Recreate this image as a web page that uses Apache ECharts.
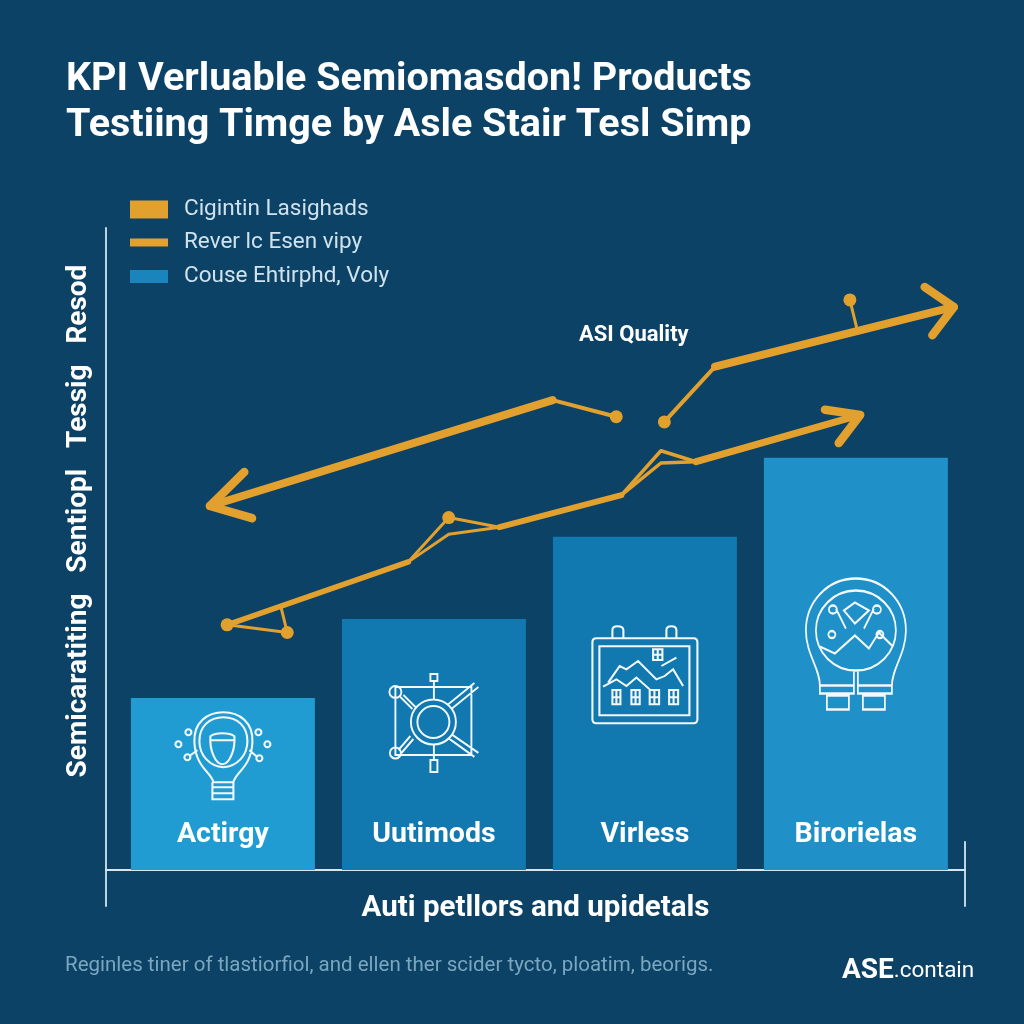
<!DOCTYPE html>
<html>
<head>
<meta charset="utf-8">
<style>html,body{margin:0;padding:0;background:#0c4265}#c{width:1024px;height:1024px}</style>
<script src="https://cdn.jsdelivr.net/npm/echarts@6/dist/echarts.min.js"></script>
</head>
<body>
<div id="c"></div>
<script>
// ---- text ----
const titleLines = ["KPI Verluable Semiomasdon! Products", "Testiing Timge by Asle Stair Tesl Simp"];
const legendBox = "Cigintin Lasighads";
const legendLine = "Rever lc Esen vipy";
const legendBar = "Couse Ehtirphd, Voly";
const yAxisName = "Semicaratiting   Sentiopl   Tessig   Resod";
const xAxisName = "Auti petllors and upidetals";
const annotation = "ASI Quality";
const footnote = "Reginles tiner of tlastiorfiol, and ellen ther scider tycto, ploatim, beorigs.";

// ---- bars ----
const categories = ["Actirgy", "Uutimods", "Virless", "Birorielas"];
const barValues = [26.8, 39.1, 51.9, 64.2];
const iconLevels = [17.8, 22.9, 30.4, 35.2];

// ---- arrow lines, [x, y] ----
const upperLeftThick = [[52.0, 73.2], [12.1, 56.7]];
const upperLeftHead = [[16.1, 62.0], [12.1, 56.7], [17.0, 54.8]];
const upperLeftThin = [[52.0, 73.2], [59.4, 70.6]];
const upperRightThin = [[65.0, 69.8], [70.9, 78.4]];
const upperRightThick = [[70.9, 78.4], [98.7, 87.7]];
const upperRightHead = [[95.3, 90.8], [98.7, 87.7], [96.2, 83.3]];
const upperRightStick = [[87.4, 84.4], [86.6, 88.8]];
const middleStart = [[14.1, 38.2], [35.2, 48.0]];
const middleLoopA = [[35.2, 48.0], [39.9, 54.9], [45.8, 53.4]];
const middleLoopB = [[35.2, 48.0], [39.9, 52.3], [45.8, 53.4]];
const middleMid = [[45.8, 53.4], [60.0, 58.4]];
const middleLoopC = [[60.0, 58.4], [64.6, 65.3], [68.7, 63.6]];
const middleLoopD = [[60.0, 58.4], [64.6, 63.4], [68.7, 63.6]];
const middleEnd = [[68.7, 63.6], [87.8, 70.9]];
const middleHead = [[83.7, 71.7], [87.8, 70.9], [85.3, 66.5]];
const lowerFoot = [[14.1, 38.2], [21.1, 37.0], [20.4, 40.8]];
const dotPoints = [[59.4, 70.6], [65.0, 69.8], [86.6, 88.8], [39.9, 54.9], [14.1, 38.2], [21.1, 37.0]];
const bracket = [[100, -5.6], [100, 4.4]];

// ---- styles ----
const bg = "#0c4265", orange = "#e2a02f", axisCol = "#d3e6f1";
const barColors = ["#219cd2", "#1279b0", "#1279b0", "#2090c8"];

// ---- outline icons (local symbol paths) ----
const ring = (x, y, r) => {
  const k = r * 0.5523;
  return `M${x - r} ${y}C${x - r} ${y - k} ${x - k} ${y - r} ${x} ${y - r}C${x + k} ${y - r} ${x + r} ${y - k} ${x + r} ${y}` +
         `C${x + r} ${y + k} ${x + k} ${y + r} ${x} ${y + r}C${x - k} ${y + r} ${x - r} ${y + k} ${x - r} ${y}Z`;
};
const box = (x0, y0, x1, y1) => `M${x0} ${y0}L${x1} ${y0}L${x1} ${y1}L${x0} ${y1}Z`;
const win = (x0, y0, x1, y1) => box(x0, y0, x1, y1) + `M${(x0 + x1) / 2} ${y0}L${(x0 + x1) / 2} ${y1}M${x0} ${(y0 + y1) / 2}L${x1} ${(y0 + y1) / 2}`;
const icons = [
  "M38 70C36 60 20 55 19 30C18 10 32 0 48 0C64 0 78 10 77 30C76 55 60 60 58 70Z" +
  "M48 5C34 5 24 14 24 29C24 43 34 54 48 55C62 54 72 43 72 29C72 14 62 5 48 5Z" +
  "M35 24C40 20 54 20 59 24C60 38 54 52 47 52C40 52 34 38 35 24ZM35 28L59 28" +
  "M37 70L37 87L58 87L58 70M37 75L58 75M37 81L58 81" +
  ring(3, 32, 3) + ring(13, 20, 3) + ring(12, 45, 3) + ring(83, 20, 3) + ring(92, 32, 3) + ring(84, 46, 3) +
  "M15 43L22 38M74 38L81 44",
  box(6, 13, 82, 81) + ring(44, 48, 22.5) + ring(44, 48, 16) +
  box(41, 0, 48, 7) + "M44.5 7L44.5 25" + box(41, 86, 48, 98) + "M44.5 70L44.5 86" +
  ring(6, 18, 6) + ring(6, 79, 5.5) +
  "M11 23L23 35M14 21L26 33M9 76L21 62M12 79L24 65" +
  "M58 31L85 9M62 35L89 13M60 65L85 83M63 61L89 79",
  "M4 12L101 12Q105 12 105 16L105 93Q105 97 101 97L4 97Q0 97 0 93L0 16Q0 12 4 12Z" + box(7, 20, 97, 89) +
  "M20 12L20 4Q20 0 25 0Q31 0 31 4L31 12M74 12L74 4Q74 0 79 0Q84 0 84 4L84 12" +
  "M15.7 56.3L27.3 39.7L34 43L45.7 34.7L64 53L72.3 49.7L80.7 43L90.7 59.7" +
  "M10.7 60.3L24 53L34 59.7L44 51.3L57.3 63" +
  win(20, 63.7, 28, 78) + win(39, 63.7, 47.3, 78) + win(57.3, 63.7, 66.7, 78) + win(76.7, 63.7, 85.7, 78) +
  win(60.7, 23, 70, 33.7) + "M69 39.7L84 31.3",
  "M14 107C14 90 0 75 0 52C0 23 22 0 50 0C78 0 100 23 100 52C100 75 86 90 86 107" +
  ring(50, 52, 40) + box(14, 107, 48, 115) + box(52, 107, 86, 115) + "M48 92L48 107M52 92L52 107" +
  box(21, 117, 43, 131) + box(57, 117, 79, 131) +
  "M14 68L29 75L49 57L63 70L73 54L86 67" +
  "M49 24L63 32L49 45L38 32Z" + ring(27, 31, 4) + ring(71, 31, 4) + "M30 30L40 50M68 30L58 50" +
  ring(26, 56, 3.5) + ring(74, 56, 3.5)
];
const iconSizes = [[95, 87], [89, 98], [105, 97], [100, 131]];

// ---- helpers ----
const line = (name, data, width, color) => ({
  type: "line", name, data, xAxisIndex: 1, yAxisIndex: 1, symbol: "none", z: 5, silent: true,
  lineStyle: { color: color || orange, width, cap: "round", join: "round" }, itemStyle: { color: color || orange }
});
const legendAt = (name, top, h) => ({
  left: 130, top, itemWidth: 38, itemHeight: h, icon: "rect", selectedMode: false,
  data: [name], padding: 0,
  textStyle: { color: "#cfe2ee", fontFamily: "Roboto", fontSize: 22.5, padding: [0, 0, 0, 11] }
});

const chart = echarts.init(document.getElementById("c"), null, { renderer: "canvas" });
chart.setOption({
  animation: false,
  backgroundColor: bg,
  title: {
    text: titleLines.join("\n"), left: 61, top: 52,
    textStyle: { color: "#fff", fontFamily: "Roboto", fontWeight: 700, fontSize: 39.5, lineHeight: 46 }
  },
  legend: [legendAt(legendBox, 198, 18), legendAt(legendLine, 231, 8), legendAt(legendBar, 265, 13)],
  grid: [
    { left: 117.4, width: 844, top: 228, bottom: 154 },
    { left: 106, width: 859, top: 228, bottom: 118 }
  ],
  xAxis: [
    { type: "category", gridIndex: 0, data: categories, show: false },
    {
      type: "value", gridIndex: 1, min: 0, max: 100,
      axisLine: { show: true, lineStyle: { color: axisCol, width: 1.8 } },
      axisTick: { show: false }, axisLabel: { show: false }, splitLine: { show: false },
      name: xAxisName, nameLocation: "middle", nameGap: -12,
      nameTextStyle: { color: "#fff", fontFamily: "Roboto", fontWeight: 700, fontSize: 29.5 }
    }
  ],
  yAxis: [
    { type: "value", gridIndex: 0, min: 0, max: 100, show: false },
    {
      type: "value", gridIndex: 1, min: -5.6, max: 100,
      axisLine: { show: true, lineStyle: { color: axisCol, width: 1.8 } },
      axisTick: { show: false }, axisLabel: { show: false }, splitLine: { show: false },
      name: yAxisName, nameLocation: "middle", nameGap: 13, nameRotate: 90,
      nameTextStyle: { color: "#fff", fontFamily: "Roboto", fontWeight: 700, fontSize: 28, padding: [0, 0, 0, 92] }
    }
  ],
  series: [
    {
      type: "bar", name: legendBar, xAxisIndex: 0, yAxisIndex: 0, barWidth: 184, z: 2, silent: true,
      itemStyle: { color: "#1a84bd" },
      data: barValues.map((v, i) => ({ value: v, itemStyle: { color: barColors[i] } })),
      label: {
        show: true, position: "insideBottom", distance: 21, formatter: "{b}", color: "#fff",
        fontFamily: "Roboto", fontWeight: 700, fontSize: 28.5
      }
    },
    ...icons.map((p, i) => ({
      type: "scatter", xAxisIndex: 0, yAxisIndex: 0, z: 3, silent: true,
      symbol: "path://" + p, symbolSize: iconSizes[i], symbolKeepAspect: false,
      itemStyle: { color: "rgba(0,0,0,0)", borderColor: "#f2f8fc", borderWidth: 2, opacity: 1 },
      data: categories.map((c, j) => j === i ? iconLevels[j] : null)
    })),
    line(legendLine, upperLeftThick, 8),
    line(legendLine, upperLeftHead, 8.5),
    line(legendLine, upperLeftThin, 4),
    line(legendLine, upperRightThin, 4),
    line(legendLine, upperRightThick, 8),
    line(legendLine, upperRightHead, 8.5),
    line(legendLine, upperRightStick, 3),
    line(legendLine, middleStart, 5.5),
    line(legendLine, middleLoopA, 3),
    line(legendLine, middleLoopB, 3),
    line(legendLine, middleMid, 6),
    line(legendLine, middleLoopC, 3.5),
    line(legendLine, middleLoopD, 3.5),
    line(legendLine, middleEnd, 7),
    line(legendLine, middleHead, 8.5),
    line(legendLine, lowerFoot, 3),
    line(legendLine, bracket, 1.8, axisCol),
    {
      type: "scatter", name: legendBox, xAxisIndex: 1, yAxisIndex: 1, z: 6, silent: true,
      symbol: "circle", symbolSize: 13, itemStyle: { color: orange, opacity: 1 }, data: dotPoints
    }
  ],
  graphic: [
    {
      type: "text", left: 579, top: 324, silent: true,
      style: { text: annotation, fill: "#fff", font: "700 22px Roboto" }
    },
    {
      type: "text", left: 65, top: 955, silent: true,
      style: { text: footnote, fill: "#7ba6c0", font: "400 20.5px Roboto" }
    },
    {
      type: "text", left: 842, top: 957, silent: true,
      style: {
        text: "{a|ASE}{b|.contain}",
        rich: {
          a: { fill: "#fff", font: "700 28px Roboto" },
          b: { fill: "#fff", font: "400 22.5px Roboto" }
        }
      }
    }
  ]
});
</script>
</body>
</html>
